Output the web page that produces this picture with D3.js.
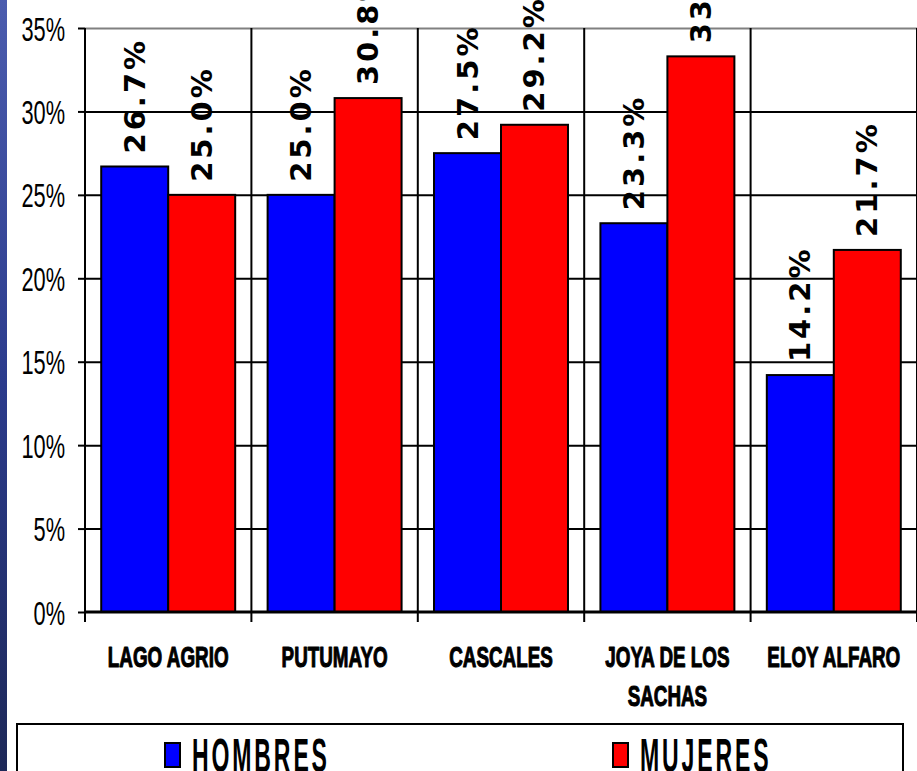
<!DOCTYPE html>
<html><head><meta charset="utf-8">
<script src="https://cdn.jsdelivr.net/npm/d3@7"></script>
<style>html,body{margin:0;padding:0;background:#fff;overflow:hidden}</style>
</head><body>
<svg id="chart" width="917" height="771"></svg>
<script>
const categories = [["LAGO AGRIO"], ["PUTUMAYO"], ["CASCALES"], ["JOYA DE LOS", "SACHAS"], ["ELOY ALFARO"]];
const seriesNames = ["HOMBRES", "MUJERES"];
const hombres = [26.7, 25.0, 27.5, 23.3, 14.2];
const mujeres = [25.0, 30.8, 29.2, 33.3, 21.7];
const seriesColors = ["#0000ff", "#ff0000"];
const yTicks = [0, 5, 10, 15, 20, 25, 30, 35];

const W = 917, H = 771;
const m = {left: 85, right: 0, top: 28, bottom: 159};
const svg = d3.select("#chart");

// left decorative strip
const defs = svg.append("defs");
const g1 = defs.append("linearGradient").attr("id","strip").attr("x1",0).attr("y1",0).attr("x2",0).attr("y2",1);
g1.append("stop").attr("offset","0%").attr("stop-color","#4b5cae");
g1.append("stop").attr("offset","50%").attr("stop-color","#2b3b8c");
g1.append("stop").attr("offset","100%").attr("stop-color","#1d2858");
svg.append("rect").attr("x",0).attr("y",0).attr("width",7).attr("height",H).attr("fill","url(#strip)");

const keys = categories.map(c => c.join(" "));
const x = d3.scaleBand().domain(keys).range([m.left, W - m.right]).padding(0);
const xs = d3.scaleBand().domain(seriesNames).range([0, x.bandwidth()]).paddingInner(0).paddingOuter(0.242);
const y = d3.scaleLinear().domain([0, 35]).range([H - m.bottom, m.top]);
const y0 = y(0);

// horizontal gridlines
const grid = svg.append("g").attr("transform", `translate(${m.left},0)`)
  .call(d3.axisLeft(y).tickValues(yTicks.filter(d => d > 0)).tickSize(-(W - m.left)).tickFormat(""));
grid.select(".domain").remove();
grid.selectAll(".tick line").attr("stroke", d => d === 35 ? "#808080" : "#000").attr("stroke-width", 2);

// vertical category separators with ticks below axis
const xAxis = svg.append("g").attr("transform", `translate(0,${y0})`);
xAxis.selectAll("line.sep").data(keys.slice(1).concat(["__end"]))
  .join("line").attr("class","sep")
  .attr("x1", (d,i) => i < keys.length - 1 ? x(d) : x(keys[keys.length-1]) + x.bandwidth())
  .attr("x2", (d,i) => i < keys.length - 1 ? x(d) : x(keys[keys.length-1]) + x.bandwidth())
  .attr("y1", y(35) - y0).attr("y2", 10)
  .attr("stroke", "#000").attr("stroke-width", 2);

// bars
const data = [];
keys.forEach((k, i) => {
  data.push({cat: k, s: seriesNames[0], v: hombres[i], c: seriesColors[0]});
  data.push({cat: k, s: seriesNames[1], v: mujeres[i], c: seriesColors[1]});
});
svg.append("g").selectAll("rect").data(data).join("rect")
  .attr("x", d => x(d.cat) + xs(d.s))
  .attr("y", d => y(d.v))
  .attr("width", xs.bandwidth())
  .attr("height", d => y0 - y(d.v))
  .attr("fill", d => d.c)
  .attr("stroke", "#000").attr("stroke-width", 2);

// x axis baseline
svg.append("line").attr("x1", m.left).attr("x2", W).attr("y1", y0).attr("y2", y0)
  .attr("stroke", "#000").attr("stroke-width", 3);

// y axis
const yAxis = svg.append("g").attr("transform", `translate(${m.left},0)`)
  .call(d3.axisLeft(y).tickValues(yTicks).tickSize(7).tickPadding(0).tickFormat(d => d + "%"));
yAxis.select(".domain").remove();
yAxis.append("line").attr("x1",0).attr("x2",0).attr("y1",y(35)).attr("y2",y0+10).attr("stroke","#000").attr("stroke-width",2);
yAxis.selectAll(".tick line").attr("stroke","#000").attr("stroke-width",2);
yAxis.selectAll(".tick text").each(function(d){
  const t = d3.select(this);
  t.attr("x", null).attr("dy", null)
   .attr("transform", "translate(-20,12) scale(0.64,1)")
   .attr("text-anchor","end")
   .attr("font-family","'Liberation Sans', Arial, sans-serif")
   .attr("font-size", 34).attr("fill","#000");
});

// value labels
svg.append("g").selectAll("text").data(data).join("text")
  .attr("transform", d => `translate(${x(d.cat) + xs(d.s) + xs.bandwidth()/2 + 10},${y(d.v) - 13}) rotate(-90)`)
  .attr("text-anchor","start")
  .attr("font-family","'DejaVu Sans', Verdana, sans-serif")
  .attr("font-weight","bold").attr("font-size", 29).attr("letter-spacing", 3)
  .attr("fill","#000")
  .text(d => d.v.toFixed(1) + "%");

// category labels
const cl = svg.append("g").selectAll("g").data(categories).join("g")
  .attr("transform", (d,i) => `translate(${x(keys[i]) + x.bandwidth()/2},667)`);
cl.each(function(lines){
  const g = d3.select(this);
  lines.forEach((ln, j) => {
    g.append("text").attr("transform", `translate(0,${j*38.5}) scale(0.65,1)`)
      .attr("text-anchor","middle")
      .attr("font-family","'Liberation Sans', Arial, sans-serif")
      .attr("font-weight","bold").attr("font-size", 29).attr("fill","#000")
      .attr("stroke","#000").attr("stroke-width",1.1).attr("stroke-linejoin","round")
      .text(ln);
  });
});

// legend
svg.append("rect").attr("x",17).attr("y",724).attr("width",886).attr("height",80)
  .attr("fill","#fff").attr("stroke","#000").attr("stroke-width",2);
const legX = [165, 613];
const lg = svg.append("g").selectAll("g").data(seriesNames).join("g")
  .attr("transform", (d,i) => `translate(${legX[i]},743)`);
lg.append("rect").attr("x",0).attr("y",0).attr("width",15).attr("height",24)
  .attr("fill", (d,i) => seriesColors[i]).attr("stroke","#000").attr("stroke-width",2);
lg.append("text").attr("transform","translate(27,29) scale(0.48,1)")
  .attr("font-family","'Liberation Sans', Arial, sans-serif")
  .attr("font-weight","bold").attr("letter-spacing", 6)
  .attr("font-size", 48).attr("fill","#000")
  .text(d => d);
</script>
</body></html>
